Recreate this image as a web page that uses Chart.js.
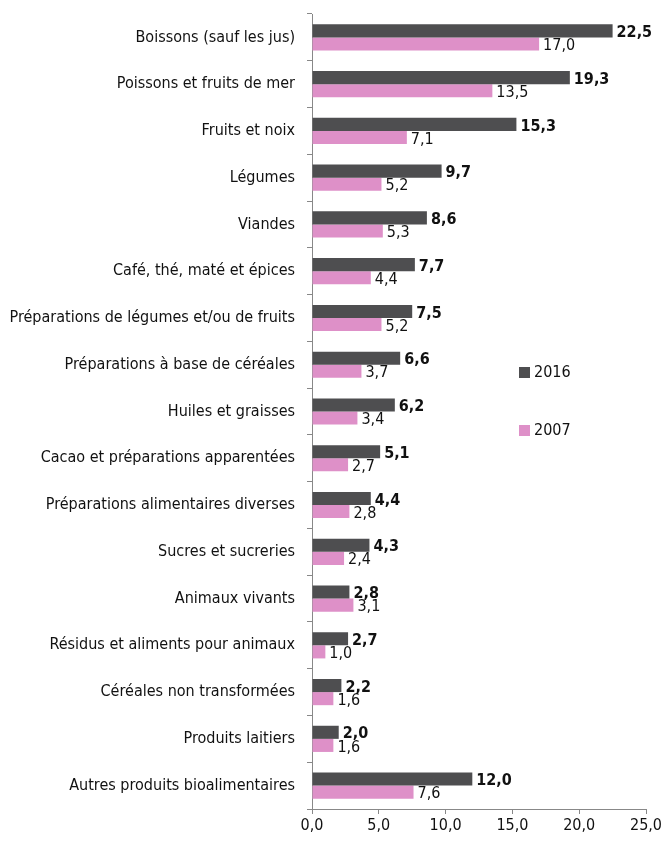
<!DOCTYPE html>
<html>
<head>
<meta charset="utf-8">
<script src="https://cdn.jsdelivr.net/npm/chart.js@4"></script>
<style>
  html, body { margin: 0; padding: 0; background: #fff; }
  #wrap { width: 666px; height: 844px; }
</style>
</head>
<body>
<div id="wrap"><canvas id="myChart" width="666" height="844"></canvas></div>
<script>
const categories = [
    'Boissons (sauf les jus)',
    'Poissons et fruits de mer',
    'Fruits et noix',
    'Légumes',
    'Viandes',
    'Café, thé, maté et épices',
    'Préparations de légumes et/ou de fruits',
    'Préparations à base de céréales',
    'Huiles et graisses',
    'Cacao et préparations apparentées',
    'Préparations alimentaires diverses',
    'Sucres et sucreries',
    'Animaux vivants',
    'Résidus et aliments pour animaux',
    'Céréales non transformées',
    'Produits laitiers',
    'Autres produits bioalimentaires'
];

const values2016 = [22.5, 19.3, 15.3, 9.7, 8.6, 7.7, 7.5, 6.6, 6.2, 5.1, 4.4, 4.3, 2.8, 2.7, 2.2, 2.0, 12.0];
const values2007 = [17.0, 13.5, 7.1, 5.2, 5.3, 4.4, 5.2, 3.7, 3.4, 2.7, 2.8, 2.4, 3.1, 1.0, 1.6, 1.6, 7.6];

const xTicks = [0, 5, 10, 15, 20, 25];

const FONT = '"Liberation Sans Narrow", "Arial Narrow", "DejaVu Sans Condensed", sans-serif';
const fmt = v => v.toFixed(1).replace('.', ',');

const s2016 = {
    label: '2016',
    backgroundColor: '#4e4e50',
    data: values2016,
    bold: true
};

const s2007 = {
    label: '2007',
    backgroundColor: '#de90c8',
    data: values2007,
    bold: false
};

// value labels at the end of each bar
const barLabels = {
    id: 'barLabels',
    afterDatasetsDraw(chart) {
        const ctx = chart.ctx;
        ctx.save();
        ctx.fillStyle = '#111';
        ctx.textBaseline = 'middle';
        ctx.textAlign = 'left';
        chart.data.datasets.forEach((ds, i) => {
            const meta = chart.getDatasetMeta(i);
            ctx.font = (ds.bold ? 'bold ' : '') + '16px ' + FONT;
            meta.data.forEach((bar, j) => {
                ctx.fillText(fmt(ds.data[j]), bar.x + 4, bar.y + 2);
            });
        });
        ctx.restore();
    }
};

// legend drawn on the right side, as in the original
const sideLegend = {
    id: 'sideLegend',
    afterDraw(chart) {
        const ctx = chart.ctx;
        const pos = [{x: 519, y: 372}, {x: 519, y: 430}];
        ctx.save();
        ctx.font = '16px ' + FONT;
        ctx.textBaseline = 'middle';
        chart.data.datasets.forEach((ds, i) => {
            ctx.fillStyle = ds.backgroundColor;
            ctx.fillRect(pos[i].x, pos[i].y - 5, 11, 11);
            ctx.fillStyle = '#111';
            ctx.fillText(ds.label, pos[i].x + 15, pos[i].y + 1);
        });
        ctx.restore();
    }
};

const config = {
    type: 'bar',
    data: {labels: categories, datasets: [s2016, s2007]},
    options: {
        indexAxis: 'y',
        responsive: false,
        animation: false,
        layout: {padding: {top: 14, right: 20, left: 0, bottom: 0}},
        datasets: {bar: {categoryPercentage: 0.56, barPercentage: 1.0}},
        plugins: {legend: {display: false}, tooltip: {enabled: false}},
        scales: {
            x: {
                min: 0,
                max: 25,
                afterBuildTicks: s => { s.ticks = xTicks.map(v => ({value: v})); },
                afterFit: s => { s.height = 35; s.paddingLeft = 0; s.paddingRight = 0; },
                grid: {drawOnChartArea: false, tickLength: 5, color: '#888'},
                border: {color: '#888'},
                ticks: {
                    color: '#111',
                    font: {family: FONT, size: 16},
                    padding: 2,
                    maxRotation: 0,
                    callback: v => fmt(v)
                }
            },
            y: {
                offset: true,
                afterFit: s => { s.width = 312; s.paddingTop = 0; s.paddingBottom = 0; },
                grid: {drawOnChartArea: false, offset: true, tickLength: 5, color: '#888'},
                border: {color: '#888'},
                ticks: {
                    color: '#111',
                    font: {family: FONT, size: 16},
                    padding: 12,
                    autoSkip: false
                }
            }
        }
    },
    plugins: [barLabels, sideLegend]
};

const myChart = new Chart(
    document.getElementById('myChart'),
    config
);
</script>
</body>
</html>
